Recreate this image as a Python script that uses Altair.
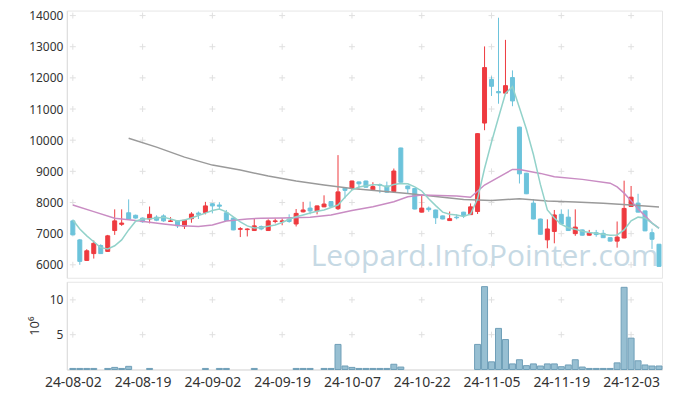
import json
import altair as alt
import pandas as pd

# ---------------- data ----------------
tick_labels = ['24-08-02', '24-08-19', '24-09-02', '24-09-19', '24-10-07',
               '24-10-22', '24-11-05', '24-11-19', '24-12-03']
tick_idx = [0, 10, 20, 30, 40, 50, 60, 70, 80]
price_ticks = [6000, 7000, 8000, 9000, 10000, 11000, 12000, 13000, 14000]
vol_ticks = [5, 10]

opens = [7410, 6800, 6140, 6360, 6620, 6430, 7100, 7300, 7670, 7590,
         7500, 7470, 7530, 7570, 7390, 7420, 7240, 7480, 7660, 7680,
         7960, 7920, 7670, 7500, 7140, 7130, 7100, 7230, 7100, 7390,
         7390, 7470, 7310, 7700, 7820, 7730, 7860, 8030, 7800, 8460,
         8450, 8660, 8690, 8410, 8570, 8530, 8350, 9750, 8530, 8450,
         7690, 7820, 7760, 7570, 7420, 7530, 7690, 7610, 7710, 10550,
         11950, 11560, 11510, 12010, 10420, 8940, 7980, 7470, 6800, 7070,
         7620, 7530, 7000, 7120, 6950, 7030, 7010, 6870, 6760, 6860,
         7870, 7980, 7730, 7030, 6660]
closes = [6960, 6110, 6450, 6690, 6360, 6930, 7410, 7340, 7470, 7500,
          7380, 7620, 7430, 7410, 7410, 7250, 7430, 7630, 7620, 7890,
          7890, 7880, 7420, 7120, 7160, 7150, 7250, 7150, 7410, 7410,
          7410, 7390, 7650, 7760, 7730, 7890, 7950, 7880, 8340, 8390,
          8690, 8600, 8490, 8510, 8550, 8330, 9010, 8650, 8440, 7790,
          7820, 7770, 7510, 7470, 7480, 7510, 7580, 7860, 10210, 12330,
          11730, 11520, 11750, 11260, 8920, 8280, 7470, 6980, 7150, 7600,
          7310, 7100, 7210, 6950, 7020, 6970, 6870, 6760, 6890, 7810,
          8170, 7690, 7090, 6820, 5950]
highs = [7450, 6830, 6500, 6780, 6660, 6960, 7780, 7780, 8100, 7610,
         7520, 7870, 7590, 7620, 7530, 7430, 7440, 7690, 7710, 8020,
         7980, 8010, 7760, 7510, 7210, 7170, 7490, 7260, 7460, 7490,
         7490, 7620, 7790, 8020, 8030, 7900, 8230, 8040, 9520, 8470,
         8700, 8670, 8700, 8650, 8610, 8670, 9090, 9760, 8540, 8460,
         8230, 7870, 7770, 7580, 7710, 7620, 7700, 7970, 10220, 13010,
         12050, 13930, 13220, 12240, 10430, 8950, 8110, 7480, 7460, 7760,
         7780, 7780, 7780, 7130, 7120, 7120, 7120, 6880, 7390, 8700,
         8530, 8280, 7740, 7160, 6670]
lows = [6950, 6000, 6130, 6200, 6360, 6420, 6960, 7250, 7440, 7480,
        7350, 7330, 7400, 7380, 7380, 7180, 7150, 7350, 7470, 7620,
        7650, 7760, 7410, 7110, 6890, 6910, 7090, 7110, 7090, 7330,
        7270, 7350, 7230, 7680, 7620, 7620, 7850, 7850, 7760, 8130,
        8400, 8450, 8480, 8400, 8300, 8320, 8340, 8640, 8290, 7780,
        7680, 7700, 7310, 7460, 7410, 7460, 7500, 7600, 7630, 10320,
        11420, 11170, 11500, 11090, 8610, 8270, 7460, 6970, 6530, 6690,
        7300, 7090, 6930, 6940, 6940, 6900, 6860, 6750, 6550, 6850,
        7860, 7680, 7080, 6510, 5940]
volumes = [0.15, 0.15, 0.15, 0.15, 0.0, 0.15, 0.3, 0.15, 0.45, 0.0,
           0.0, 0.15, 0.0, 0.0, 0.0, 0.0, 0.0, 0.0, 0.0, 0.15,
           0.0, 0.15, 0.15, 0.0, 0.0, 0.0, 0.15, 0.0, 0.0, 0.0,
           0.0, 0.0, 0.15, 0.15, 0.15, 0.0, 0.15, 0.15, 3.6, 0.5,
           0.3, 0.15, 0.15, 0.15, 0.15, 0.15, 0.75, 0.35, 0.0, 0.0,
           0.0, 0.0, 0.0, 0.0, 0.0, 0.0, 0.0, 0.0, 3.6, 11.9,
           1.1, 5.9, 4.3, 0.8, 1.4, 0.55, 0.8, 0.5, 0.8, 0.8,
           0.4, 0.65, 1.4, 0.35, 0.15, 0.15, 0.15, 0.15, 0.95, 11.8,
           4.5, 1.25, 0.65, 0.5, 0.5]
ma_short = [7440, 7150, 6930, 6740, 6550, 6510, 6610, 6800, 7120, 7400,
            7470, 7480, 7500, 7530, 7470, 7410, 7440, 7500, 7580, 7660,
            7740, 7790, 7700, 7540, 7380, 7250, 7180, 7200, 7240, 7280,
            7360, 7460, 7540, 7600, 7660, 7720, 7760, 7840, 7920, 8170,
            8400, 8500, 8540, 8570, 8570, 8500, 8580, 8610, 8600, 8500,
            8370, 8120, 7900, 7690, 7620, 7600, 7550, 7630, 8120, 9090,
            9940, 10730, 11500, 11720, 11040, 10350, 9540, 8580, 7760, 7500,
            7300, 7190, 7140, 7080, 7040, 7010, 6980, 6950, 6960, 7120,
            7410, 7530, 7500, 7340, 7170]
ma_mid_idx = [0, 3, 6, 9, 13, 15, 18, 20, 22, 25, 27, 30, 34, 37, 40, 43, 46,
              48, 50, 55, 57, 59, 62, 63, 64, 67, 69, 73, 77, 78, 79, 80, 81,
              82, 83, 84]
ma_mid = [7920, 7706, 7494, 7424, 7312, 7260, 7232, 7280, 7408, 7472, 7494,
          7500, 7526, 7600, 7740, 7866, 8026, 8186, 8240, 8208, 8166, 8560,
          8934, 9062, 9062, 8934, 8826, 8742, 8620, 8500, 8300, 8060, 7790,
          7570, 7340, 7180]
ma_long_idx = [8, 12, 16, 20, 24, 28, 32, 36, 40, 44, 48, 52, 56, 60, 64,
               68, 72, 76, 80, 84]
ma_long = [10064, 9776, 9456, 9200, 9040, 8848, 8688, 8560, 8448, 8368, 8288,
           8192, 8096, 8064, 8122, 8048, 8016, 7974, 7920, 7856]

# ---------------- styling ----------------
RED = '#ee3a3f'
BLUE = '#6cc3db'
TEAL = '#92d2ca'
PINK = '#c98cc3'
GRAY = '#9a9a9a'
FONT = 'Noto Sans'

n = len(opens)
df = pd.DataFrame({'i': list(range(n)), 'open': opens, 'close': closes,
                   'high': highs, 'low': lows, 'vol': volumes, 'ma': ma_short})
df['dir'] = ['up' if c >= o else 'down' for o, c in zip(opens, closes)]
df_mid = pd.DataFrame({'i': ma_mid_idx, 'v': ma_mid})
df_long = pd.DataFrame({'i': ma_long_idx, 'v': ma_long})
df_grid_p = pd.DataFrame([{'i': a, 'v': b} for a in tick_idx for b in price_ticks])
df_grid_v = pd.DataFrame([{'i': a, 'v': b} for a in tick_idx for b in vol_ticks])

xscale = alt.Scale(domain=[-0.86, 84.43], nice=False, zero=False, padding=0)
pscale = alt.Scale(domain=[5584, 14160], nice=False, zero=False, padding=0)
vscale = alt.Scale(domain=[0, 12.6], nice=False, zero=False, padding=0)
cscale = alt.Scale(domain=['up', 'down'], range=[RED, BLUE])

W = 597
PH = 268
VH = 88

cross_shape = 'M-1,0L1,0M0,-1L0,1'

p_axis = alt.Axis(values=price_ticks, format='d', title=None, grid=False, ticks=False,
                  labelPadding=4, domain=True, domainColor='#dddddd',
                  labelOverlap=False, labelFlush=False,
                  labelFontSize=12, labelColor='#333333', labelFont=FONT)


def py(field):
    return alt.Y(field, scale=pscale, axis=p_axis)


p_grid = alt.Chart(df_grid_p).mark_point(
    shape=cross_shape, size=36, filled=False, color='#e0e0e0', strokeWidth=1, opacity=1
).encode(x=alt.X('i:Q', scale=xscale, axis=None), y=py('v:Q'))

watermark = alt.Chart(pd.DataFrame({'t': ['Leopard.InfoPointer.com']})).mark_text(
    font='Open Sans', fontSize=30, color='#c6d9e4', align='center', baseline='alphabetic'
).encode(text='t:N', x=alt.value(419), y=alt.value(256))

wick = alt.Chart(df).mark_rule(strokeWidth=1).encode(
    x=alt.X('i:Q', scale=xscale, axis=None),
    y=py('low:Q'),
    y2='high:Q',
    color=alt.Color('dir:N', scale=cscale, legend=None),
)
body = alt.Chart(df).mark_bar(size=4, strokeWidth=1).encode(
    x=alt.X('i:Q', scale=xscale, axis=None),
    y=py('open:Q'),
    y2='close:Q',
    color=alt.Color('dir:N', scale=cscale, legend=None),
    stroke=alt.Stroke('dir:N', scale=cscale, legend=None),
)

line_long = alt.Chart(df_long).mark_line(color=GRAY, strokeWidth=1.5).encode(
    x=alt.X('i:Q', scale=xscale, axis=None), y=py('v:Q'))
line_mid = alt.Chart(df_mid).mark_line(color=PINK, strokeWidth=1.5).encode(
    x=alt.X('i:Q', scale=xscale, axis=None), y=py('v:Q'))
line_short = alt.Chart(df).mark_line(color=TEAL, strokeWidth=1.5).encode(
    x=alt.X('i:Q', scale=xscale, axis=None), y=py('ma:Q'))

price = alt.layer(p_grid, watermark, wick, body, line_long, line_mid, line_short).properties(
    width=W, height=PH)

label_expr = json.dumps(tick_labels) + '[round(datum.value / 10)]'

x_axis = alt.Axis(values=tick_idx, labelExpr=label_expr, title=None, grid=False,
                  ticks=False, labelPadding=6, domainColor='#dddddd',
                  labelFontSize=14, labelColor='#333333', labelFont=FONT,
                  labelFlush=False, labelOverlap=False)
v_axis = alt.Axis(values=vol_ticks, title='10⁶', grid=False, ticks=False,
                  labelPadding=4, domainColor='#dddddd', labelFontSize=12,
                  labelColor='#333333', labelFont=FONT, labelOverlap=False,
                  titleFont=FONT, titleFontSize=13, titleFontWeight='normal',
                  titleColor='#333333', titleX=-32, titleY=44, titleAngle=270,
                  titleAlign='center', titleBaseline='middle')

v_grid = alt.Chart(df_grid_v).mark_point(
    shape=cross_shape, size=36, filled=False, color='#e0e0e0', strokeWidth=1, opacity=1
).encode(
    x=alt.X('i:Q', scale=xscale, axis=x_axis),
    y=alt.Y('v:Q', scale=vscale, axis=v_axis),
)
vol = alt.Chart(df).mark_bar(size=6, fill='#97bfd2', stroke='#6f9fb8', strokeWidth=1).encode(
    x=alt.X('i:Q', scale=xscale, axis=x_axis),
    y=alt.Y('vol:Q', scale=vscale, axis=v_axis),
).transform_filter('datum.vol > 0')
volume = alt.layer(v_grid, vol).properties(width=W, height=VH)

chart = alt.vconcat(price, volume, spacing=2).properties(
    padding={'left': 20, 'top': 0, 'right': 2, 'bottom': 2}
).configure_view(stroke='#e6e6e6').configure_concat(spacing=2)

chart.save('out.html', embed_options={'renderer': 'svg', 'actions': False})
